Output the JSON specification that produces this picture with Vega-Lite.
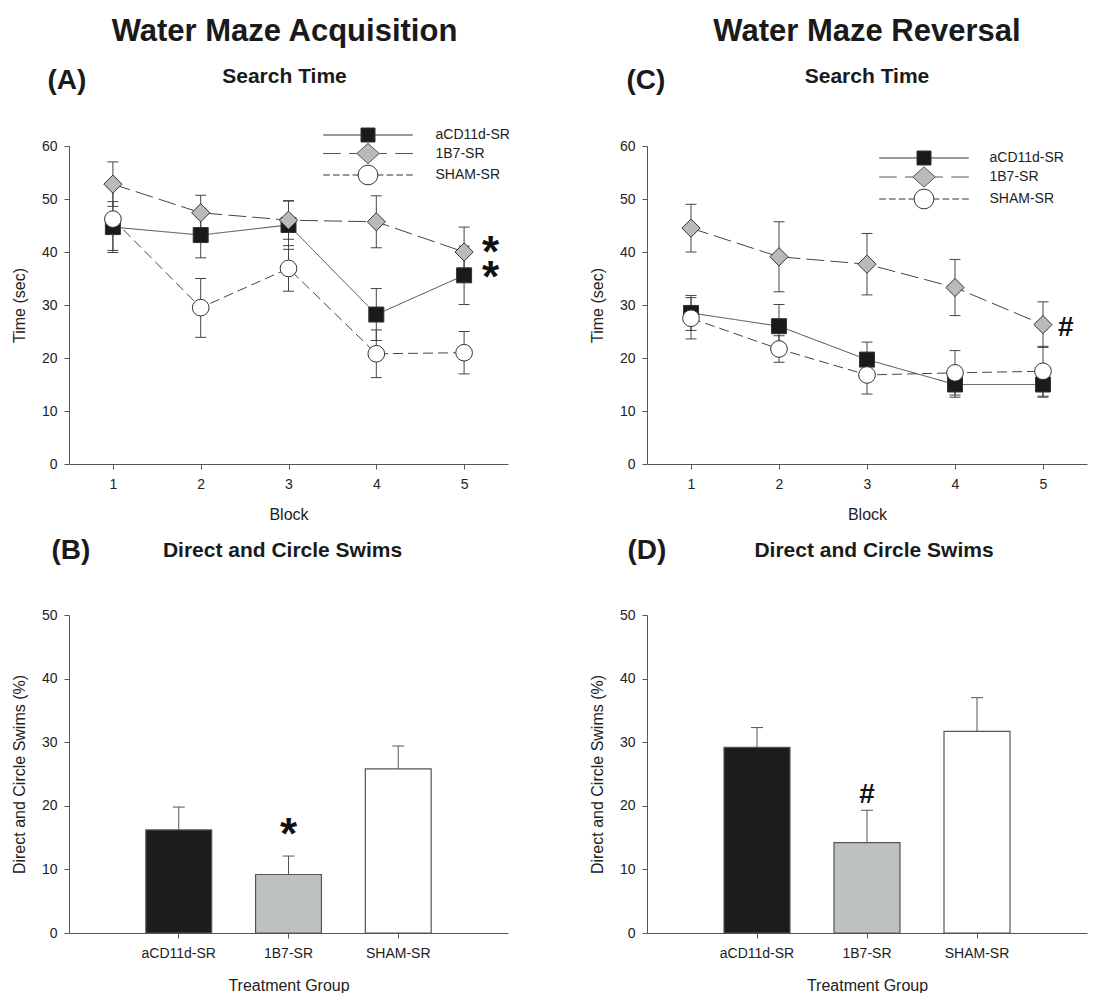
{
  "$schema": "https://vega.github.io/schema/vega-lite/v6.json",
  "padding": {"left": 11, "top": 16, "right": 2, "bottom": 2},
  "background": "white",
  "datasets": {
    "acq": [
      {"group": "aCD11d-SR", "block": 1, "mean": 44.7, "lo": 39.9, "hi": 49.5},
      {"group": "aCD11d-SR", "block": 2, "mean": 43.2, "lo": 38.9, "hi": 47.5},
      {"group": "aCD11d-SR", "block": 3, "mean": 45.1, "lo": 40.5, "hi": 49.7},
      {"group": "aCD11d-SR", "block": 4, "mean": 28.2, "lo": 23.3, "hi": 33.1},
      {"group": "aCD11d-SR", "block": 5, "mean": 35.6, "lo": 30.1, "hi": 41.1},
      {"group": "1B7-SR", "block": 1, "mean": 52.8, "lo": 48.6, "hi": 57.0},
      {"group": "1B7-SR", "block": 2, "mean": 47.4, "lo": 44.1, "hi": 50.7},
      {"group": "1B7-SR", "block": 3, "mean": 46.0, "lo": 42.4, "hi": 49.6},
      {"group": "1B7-SR", "block": 4, "mean": 45.7, "lo": 40.8, "hi": 50.6},
      {"group": "1B7-SR", "block": 5, "mean": 40.0, "lo": 35.3, "hi": 44.7},
      {"group": "SHAM-SR", "block": 1, "mean": 46.2, "lo": 40.3, "hi": 52.1},
      {"group": "SHAM-SR", "block": 2, "mean": 29.5, "lo": 23.9, "hi": 35.0},
      {"group": "SHAM-SR", "block": 3, "mean": 36.9, "lo": 32.6, "hi": 41.2},
      {"group": "SHAM-SR", "block": 4, "mean": 20.8, "lo": 16.3, "hi": 25.3},
      {"group": "SHAM-SR", "block": 5, "mean": 21.0, "lo": 17.0, "hi": 25.0}
    ],
    "rev": [
      {"group": "aCD11d-SR", "block": 1, "mean": 28.5, "lo": 25.2, "hi": 31.8},
      {"group": "aCD11d-SR", "block": 2, "mean": 26.0, "lo": 21.9, "hi": 30.1},
      {"group": "aCD11d-SR", "block": 3, "mean": 19.7, "lo": 16.4, "hi": 23.0},
      {"group": "aCD11d-SR", "block": 4, "mean": 15.0, "lo": 12.6, "hi": 17.4},
      {"group": "aCD11d-SR", "block": 5, "mean": 15.0, "lo": 12.6, "hi": 17.4},
      {"group": "1B7-SR", "block": 1, "mean": 44.5, "lo": 40.0, "hi": 49.0},
      {"group": "1B7-SR", "block": 2, "mean": 39.1, "lo": 32.5, "hi": 45.7},
      {"group": "1B7-SR", "block": 3, "mean": 37.7, "lo": 31.9, "hi": 43.5},
      {"group": "1B7-SR", "block": 4, "mean": 33.3, "lo": 28.0, "hi": 38.6},
      {"group": "1B7-SR", "block": 5, "mean": 26.3, "lo": 22.0, "hi": 30.6},
      {"group": "SHAM-SR", "block": 1, "mean": 27.5, "lo": 23.6, "hi": 31.4},
      {"group": "SHAM-SR", "block": 2, "mean": 21.7, "lo": 19.2, "hi": 24.2},
      {"group": "SHAM-SR", "block": 3, "mean": 16.8, "lo": 13.2, "hi": 20.4},
      {"group": "SHAM-SR", "block": 4, "mean": 17.2, "lo": 13.0, "hi": 21.4},
      {"group": "SHAM-SR", "block": 5, "mean": 17.5, "lo": 12.8, "hi": 22.2}
    ],
    "swimAcq": [
      {"group": "aCD11d-SR", "value": 16.2, "hi": 19.8},
      {"group": "1B7-SR", "value": 9.2, "hi": 12.1},
      {"group": "SHAM-SR", "value": 25.8, "hi": 29.4}
    ],
    "swimRev": [
      {"group": "aCD11d-SR", "value": 29.2, "hi": 32.3},
      {"group": "1B7-SR", "value": 14.2, "hi": 19.3},
      {"group": "SHAM-SR", "value": 31.7, "hi": 37.0}
    ],
    "acqAnn": [
      {"block": 5.3, "mean": 40.6, "label": "*"},
      {"block": 5.3, "mean": 35.9, "label": "*"}
    ],
    "revAnn": [
      {"block": 5.26, "mean": 26.1, "label": "#"}
    ],
    "swimAcqAnn": [
      {"group": "1B7-SR", "value": 16.0, "label": "*"}
    ],
    "swimRevAnn": [
      {"group": "1B7-SR", "value": 22.0, "label": "#"}
    ]
  },
  "columns": 2,
  "spacing": {"row": 151, "column": 139},
  "bounds": "flush",
  "resolve": {"scale": {"fill": "independent", "shape": "independent", "size": "independent", "strokeDash": "independent", "stroke": "independent"}},
  "concat": [
    {
      "width": 439,
      "height": 318,
      "title": {"text": "Water Maze Acquisition", "subtitle": "Search Time", "fontSize": 31, "subtitleFontSize": 21, "subtitleFontWeight": "bold", "subtitleColor": "#1a1a1a", "subtitleFont": "Liberation Sans", "subtitlePadding": 18, "anchor": "middle", "frame": "group", "offset": -22, "dx": -4},
      "resolve": {"axis": {"x": "independent"}},
      "layer": [
        {
          "data": {"name": "acq"},
          "resolve": {"scale": {"fill": "independent", "shape": "independent", "size": "independent", "stroke": "independent"}},
          "encoding": {
            "x": {"field": "block", "type": "quantitative", "scale": {"domain": [0.5, 5.5], "nice": false, "zero": false},
                  "axis": {"values": [1, 2, 3, 4, 5], "format": "d", "title": "Block", "labelPadding": 8, "titlePadding": 15}},
            "y": {"field": "mean", "type": "quantitative", "scale": {"domain": [0, 60], "nice": false},
                  "axis": {"values": [0, 10, 20, 30, 40, 50, 60], "title": "Time (sec)", "labelPadding": 7, "titlePadding": 14}}
          },
          "layer": [
            {
              "mark": {"type": "point", "filled": true, "opacity": 0, "strokeWidth": 1},
              "encoding": {
                "fill": {"field": "group", "type": "nominal", "scale": {"domain": ["aCD11d-SR", "1B7-SR", "SHAM-SR"], "range": ["#1a1a1a", "#b8bcb8", "#ffffff"]},
                         "legend": {"orient": "none", "legendX": 291.5, "legendY": -18.5, "title": null, "symbolSize": 196, "symbolOpacity": 1, "symbolStrokeWidth": 1, "labelFontSize": 14, "labelColor": "#222", "labelOffset": 60, "rowPadding": -3.5, "padding": 0}},
                "stroke": {"field": "group", "type": "nominal", "scale": {"domain": ["aCD11d-SR", "1B7-SR", "SHAM-SR"], "range": ["#333333", "#555555", "#333333"]},
                           "legend": {"orient": "none", "legendX": 291.5, "legendY": -18.5, "title": null, "symbolSize": 196, "symbolOpacity": 1, "symbolStrokeWidth": 1, "labelFontSize": 14, "labelColor": "#222", "labelOffset": 60, "rowPadding": -3.5, "padding": 0}},
                "shape": {"field": "group", "type": "nominal", "scale": {"domain": ["aCD11d-SR", "1B7-SR", "SHAM-SR"], "range": ["M-6.4,0H-1M1,0H6.4M-1,-1H1V1H-1Z", "M-6.4,0H-3.9M-2.7,0H-1.6M1.6,0H2.7M3.9,0H6.4M0,-1.45L1.6,0L0,1.45L-1.6,0Z", "M-6.4,0H-5.45M-5,0H-4.05M-3.6,0H-2.65M-2.2,0H-1.4M1.4,0H2.2M2.65,0H3.6M4.05,0H5M5.45,0H6.4M1.4,0A1.4,1.4,0,1,1,-1.4,0A1.4,1.4,0,1,1,1.4,0Z"]},
                          "legend": {"orient": "none", "legendX": 291.5, "legendY": -18.5, "title": null, "symbolSize": 196, "symbolOpacity": 1, "symbolStrokeWidth": 1, "labelFontSize": 14, "labelColor": "#222", "labelOffset": 60, "rowPadding": -3.5, "padding": 0}}
              }
            },
            {
              "mark": {"type": "line", "stroke": "#444", "strokeWidth": 1},
              "encoding": {
                "detail": {"field": "group"},
                "strokeDash": {"field": "group", "scale": {"domain": ["1B7-SR", "SHAM-SR", "aCD11d-SR"], "range": [[18, 6], [10, 5], [1, 0]]}, "legend": null}
              }
            },
            {
              "mark": {"type": "rule", "stroke": "#444", "strokeWidth": 1},
              "encoding": {"y": {"field": "lo", "type": "quantitative", "title": "Time (sec)"}, "y2": {"field": "hi"}}
            },
            {
              "mark": {"type": "tick", "orient": "horizontal", "size": 11, "thickness": 1, "color": "#444", "opacity": 1},
              "encoding": {"y": {"field": "lo", "type": "quantitative", "title": "Time (sec)"}}
            },
            {
              "mark": {"type": "tick", "orient": "horizontal", "size": 11, "thickness": 1, "color": "#444", "opacity": 1},
              "encoding": {"y": {"field": "hi", "type": "quantitative", "title": "Time (sec)"}}
            },
            {
              "mark": {"type": "point", "filled": true, "stroke": "#333", "strokeWidth": 1, "opacity": 1},
              "encoding": {
                "fill": {"field": "group", "type": "nominal", "scale": {"domain": ["1B7-SR", "SHAM-SR", "aCD11d-SR"], "range": ["#b8bcb8", "#ffffff", "#1a1a1a"]}, "legend": null},
                "shape": {"field": "group", "type": "nominal", "scale": {"domain": ["1B7-SR", "SHAM-SR", "aCD11d-SR"], "range": ["diamond", "circle", "square"]}, "legend": null},
                "size": {"field": "group", "type": "nominal", "scale": {"domain": ["1B7-SR", "SHAM-SR", "aCD11d-SR"], "range": [330, 225, 169]}, "legend": null}
              }
            }
          ]
        },
        {
          "data": {"name": "acqAnn"},
          "mark": {"type": "text", "font": "Liberation Sans", "fontWeight": "bold", "fontSize": 44, "dy": 18, "baseline": "alphabetic", "color": "#111"},
          "encoding": {
            "x": {"field": "block", "type": "quantitative", "axis": {"orient": "top", "title": "(A)", "labels": false, "ticks": false, "domain": false, "titleFontSize": 28, "titleFontWeight": "bold", "titleColor": "#1a1a1a", "titleAlign": "left", "titleAnchor": "start", "titleBaseline": "alphabetic", "titleX": -22, "titleY": -58, "titleAngle": 0}},
            "y": {"field": "mean", "type": "quantitative", "title": "Time (sec)"},
            "text": {"field": "label"}
          }
        }
      ]
    },
    {
      "width": 440,
      "height": 318,
      "title": {"text": "Water Maze Reversal", "subtitle": "Search Time", "fontSize": 31, "subtitleFontSize": 21, "subtitleFontWeight": "bold", "subtitleColor": "#1a1a1a", "subtitleFont": "Liberation Sans", "subtitlePadding": 18, "anchor": "middle", "frame": "group", "offset": -22, "dx": 0},
      "resolve": {"axis": {"x": "independent"}},
      "layer": [
        {
          "data": {"name": "rev"},
          "resolve": {"scale": {"fill": "independent", "shape": "independent", "size": "independent", "stroke": "independent"}},
          "encoding": {
            "x": {"field": "block", "type": "quantitative", "scale": {"domain": [0.5, 5.5], "nice": false, "zero": false},
                  "axis": {"values": [1, 2, 3, 4, 5], "format": "d", "title": "Block", "labelPadding": 8, "titlePadding": 15}},
            "y": {"field": "mean", "type": "quantitative", "scale": {"domain": [0, 60], "nice": false},
                  "axis": {"values": [0, 10, 20, 30, 40, 50, 60], "title": "Time (sec)", "labelPadding": 7, "titlePadding": 14}}
          },
          "layer": [
            {
              "mark": {"type": "point", "filled": true, "opacity": 0, "strokeWidth": 1},
              "encoding": {
                "fill": {"field": "group", "type": "nominal", "scale": {"domain": ["aCD11d-SR", "1B7-SR", "SHAM-SR"], "range": ["#1a1a1a", "#b8bcb8", "#ffffff"]},
                         "legend": {"orient": "none", "legendX": 269.5, "legendY": 4.5, "title": null, "symbolSize": 196, "symbolOpacity": 1, "symbolStrokeWidth": 1, "labelFontSize": 14, "labelColor": "#222", "labelOffset": 58, "rowPadding": -3, "padding": 0}},
                "stroke": {"field": "group", "type": "nominal", "scale": {"domain": ["aCD11d-SR", "1B7-SR", "SHAM-SR"], "range": ["#333333", "#555555", "#333333"]},
                           "legend": {"orient": "none", "legendX": 269.5, "legendY": 4.5, "title": null, "symbolSize": 196, "symbolOpacity": 1, "symbolStrokeWidth": 1, "labelFontSize": 14, "labelColor": "#222", "labelOffset": 58, "rowPadding": -3, "padding": 0}},
                "shape": {"field": "group", "type": "nominal", "scale": {"domain": ["aCD11d-SR", "1B7-SR", "SHAM-SR"], "range": ["M-6.4,0H-1M1,0H6.4M-1,-1H1V1H-1Z", "M-6.4,0H-3.9M-2.7,0H-1.6M1.6,0H2.7M3.9,0H6.4M0,-1.45L1.6,0L0,1.45L-1.6,0Z", "M-6.4,0H-5.45M-5,0H-4.05M-3.6,0H-2.65M-2.2,0H-1.4M1.4,0H2.2M2.65,0H3.6M4.05,0H5M5.45,0H6.4M1.4,0A1.4,1.4,0,1,1,-1.4,0A1.4,1.4,0,1,1,1.4,0Z"]},
                          "legend": {"orient": "none", "legendX": 269.5, "legendY": 4.5, "title": null, "symbolSize": 196, "symbolOpacity": 1, "symbolStrokeWidth": 1, "labelFontSize": 14, "labelColor": "#222", "labelOffset": 58, "rowPadding": -3, "padding": 0}}
              }
            },
            {
              "mark": {"type": "line", "stroke": "#444", "strokeWidth": 1},
              "encoding": {
                "detail": {"field": "group"},
                "strokeDash": {"field": "group", "scale": {"domain": ["1B7-SR", "SHAM-SR", "aCD11d-SR"], "range": [[18, 6], [10, 5], [1, 0]]}, "legend": null}
              }
            },
            {
              "mark": {"type": "rule", "stroke": "#444", "strokeWidth": 1},
              "encoding": {"y": {"field": "lo", "type": "quantitative", "title": "Time (sec)"}, "y2": {"field": "hi"}}
            },
            {
              "mark": {"type": "tick", "orient": "horizontal", "size": 11, "thickness": 1, "color": "#444", "opacity": 1},
              "encoding": {"y": {"field": "lo", "type": "quantitative", "title": "Time (sec)"}}
            },
            {
              "mark": {"type": "tick", "orient": "horizontal", "size": 11, "thickness": 1, "color": "#444", "opacity": 1},
              "encoding": {"y": {"field": "hi", "type": "quantitative", "title": "Time (sec)"}}
            },
            {
              "mark": {"type": "point", "filled": true, "stroke": "#333", "strokeWidth": 1, "opacity": 1},
              "encoding": {
                "fill": {"field": "group", "type": "nominal", "scale": {"domain": ["1B7-SR", "SHAM-SR", "aCD11d-SR"], "range": ["#b8bcb8", "#ffffff", "#1a1a1a"]}, "legend": null},
                "shape": {"field": "group", "type": "nominal", "scale": {"domain": ["1B7-SR", "SHAM-SR", "aCD11d-SR"], "range": ["diamond", "circle", "square"]}, "legend": null},
                "size": {"field": "group", "type": "nominal", "scale": {"domain": ["1B7-SR", "SHAM-SR", "aCD11d-SR"], "range": [330, 225, 169]}, "legend": null}
              }
            }
          ]
        },
        {
          "data": {"name": "revAnn"},
          "mark": {"type": "text", "font": "Liberation Sans", "fontWeight": "bold", "fontSize": 28, "dy": 10, "baseline": "alphabetic", "color": "#111"},
          "encoding": {
            "x": {"field": "block", "type": "quantitative", "axis": {"orient": "top", "title": "(C)", "labels": false, "ticks": false, "domain": false, "titleFontSize": 28, "titleFontWeight": "bold", "titleColor": "#1a1a1a", "titleAlign": "left", "titleAnchor": "start", "titleBaseline": "alphabetic", "titleX": -21, "titleY": -58, "titleAngle": 0}},
            "y": {"field": "mean", "type": "quantitative", "title": "Time (sec)"},
            "text": {"field": "label"}
          }
        }
      ]
    },
    {
      "width": 439,
      "height": 318,
      "title": {"text": "Direct and Circle Swims", "fontSize": 21, "anchor": "middle", "frame": "group", "offset": -24.5, "dx": -6},
      "resolve": {"axis": {"x": "independent"}},
      "layer": [
        {
          "data": {"name": "swimAcq"},
          "encoding": {
            "x": {"field": "group", "type": "nominal", "sort": ["aCD11d-SR", "1B7-SR", "SHAM-SR"],
                  "scale": {"domain": ["aCD11d-SR", "1B7-SR", "SHAM-SR"], "paddingInner": 0.4, "paddingOuter": 0.7},
                  "axis": {"title": "Treatment Group", "labelAngle": 0, "labelFontSize": 14, "labelPadding": 8, "titlePadding": 17}},
            "y": {"field": "value", "type": "quantitative", "scale": {"domain": [0, 50], "nice": false},
                  "axis": {"values": [0, 10, 20, 30, 40, 50], "title": "Direct and Circle Swims (%)", "labelPadding": 7, "titlePadding": 14}}
          },
          "layer": [
            {
              "mark": {"type": "rule", "stroke": "#555", "strokeWidth": 1},
              "encoding": {"y2": {"field": "hi"}}
            },
            {
              "mark": {"type": "bar", "stroke": "#555", "strokeWidth": 1.2},
              "encoding": {"fill": {"field": "group", "type": "nominal", "scale": {"domain": ["aCD11d-SR", "1B7-SR", "SHAM-SR"], "range": ["#1c1c1c", "#bec2be", "#ffffff"]}, "legend": null}}
            },
            {
              "mark": {"type": "tick", "orient": "horizontal", "size": 12, "thickness": 1, "color": "#555", "opacity": 1},
              "encoding": {"y": {"field": "hi", "type": "quantitative", "title": "Direct and Circle Swims (%)"}}
            }
          ]
        },
        {
          "data": {"name": "swimAcqAnn"},
          "mark": {"type": "text", "font": "Liberation Sans", "fontWeight": "bold", "fontSize": 44, "dy": 18, "baseline": "alphabetic", "color": "#111"},
          "encoding": {
            "x": {"field": "group", "type": "nominal", "axis": {"orient": "top", "title": "(B)", "labels": false, "ticks": false, "domain": false, "titleFontSize": 28, "titleFontWeight": "bold", "titleColor": "#1a1a1a", "titleAlign": "left", "titleAnchor": "start", "titleBaseline": "alphabetic", "titleX": -18, "titleY": -57, "titleAngle": 0}},
            "y": {"field": "value", "type": "quantitative", "title": "Direct and Circle Swims (%)"},
            "text": {"field": "label"}
          }
        }
      ]
    },
    {
      "width": 440,
      "height": 318,
      "title": {"text": "Direct and Circle Swims", "fontSize": 21, "anchor": "middle", "frame": "group", "offset": -24.5, "dx": 7},
      "resolve": {"axis": {"x": "independent"}},
      "layer": [
        {
          "data": {"name": "swimRev"},
          "encoding": {
            "x": {"field": "group", "type": "nominal", "sort": ["aCD11d-SR", "1B7-SR", "SHAM-SR"],
                  "scale": {"domain": ["aCD11d-SR", "1B7-SR", "SHAM-SR"], "paddingInner": 0.4, "paddingOuter": 0.7},
                  "axis": {"title": "Treatment Group", "labelAngle": 0, "labelFontSize": 14, "labelPadding": 8, "titlePadding": 17}},
            "y": {"field": "value", "type": "quantitative", "scale": {"domain": [0, 50], "nice": false},
                  "axis": {"values": [0, 10, 20, 30, 40, 50], "title": "Direct and Circle Swims (%)", "labelPadding": 7, "titlePadding": 14}}
          },
          "layer": [
            {
              "mark": {"type": "rule", "stroke": "#555", "strokeWidth": 1},
              "encoding": {"y2": {"field": "hi"}}
            },
            {
              "mark": {"type": "bar", "stroke": "#555", "strokeWidth": 1.2},
              "encoding": {"fill": {"field": "group", "type": "nominal", "scale": {"domain": ["aCD11d-SR", "1B7-SR", "SHAM-SR"], "range": ["#1c1c1c", "#bec2be", "#ffffff"]}, "legend": null}}
            },
            {
              "mark": {"type": "tick", "orient": "horizontal", "size": 12, "thickness": 1, "color": "#555", "opacity": 1},
              "encoding": {"y": {"field": "hi", "type": "quantitative", "title": "Direct and Circle Swims (%)"}}
            }
          ]
        },
        {
          "data": {"name": "swimRevAnn"},
          "mark": {"type": "text", "font": "Liberation Sans", "fontWeight": "bold", "fontSize": 28, "dy": 10, "baseline": "alphabetic", "color": "#111"},
          "encoding": {
            "x": {"field": "group", "type": "nominal", "axis": {"orient": "top", "title": "(D)", "labels": false, "ticks": false, "domain": false, "titleFontSize": 28, "titleFontWeight": "bold", "titleColor": "#1a1a1a", "titleAlign": "left", "titleAnchor": "start", "titleBaseline": "alphabetic", "titleX": -20, "titleY": -57, "titleAngle": 0}},
            "y": {"field": "value", "type": "quantitative", "title": "Direct and Circle Swims (%)"},
            "text": {"field": "label"}
          }
        }
      ]
    }
  ],
  "config": {
    "font": "Liberation Sans",
    "view": {"stroke": null},
    "axis": {"labelFont": "Liberation Sans", "labelFontSize": 14, "labelColor": "#222", "titleFont": "Liberation Sans", "titleFontSize": 16, "titleFontWeight": "normal", "titleColor": "#222", "domainColor": "#555", "tickColor": "#555", "grid": false, "tickSize": 5},
    "title": {"font": "Liberation Sans", "fontWeight": "bold", "color": "#1a1a1a"},
    "legend": {"labelFont": "Liberation Sans"}
  }
}
